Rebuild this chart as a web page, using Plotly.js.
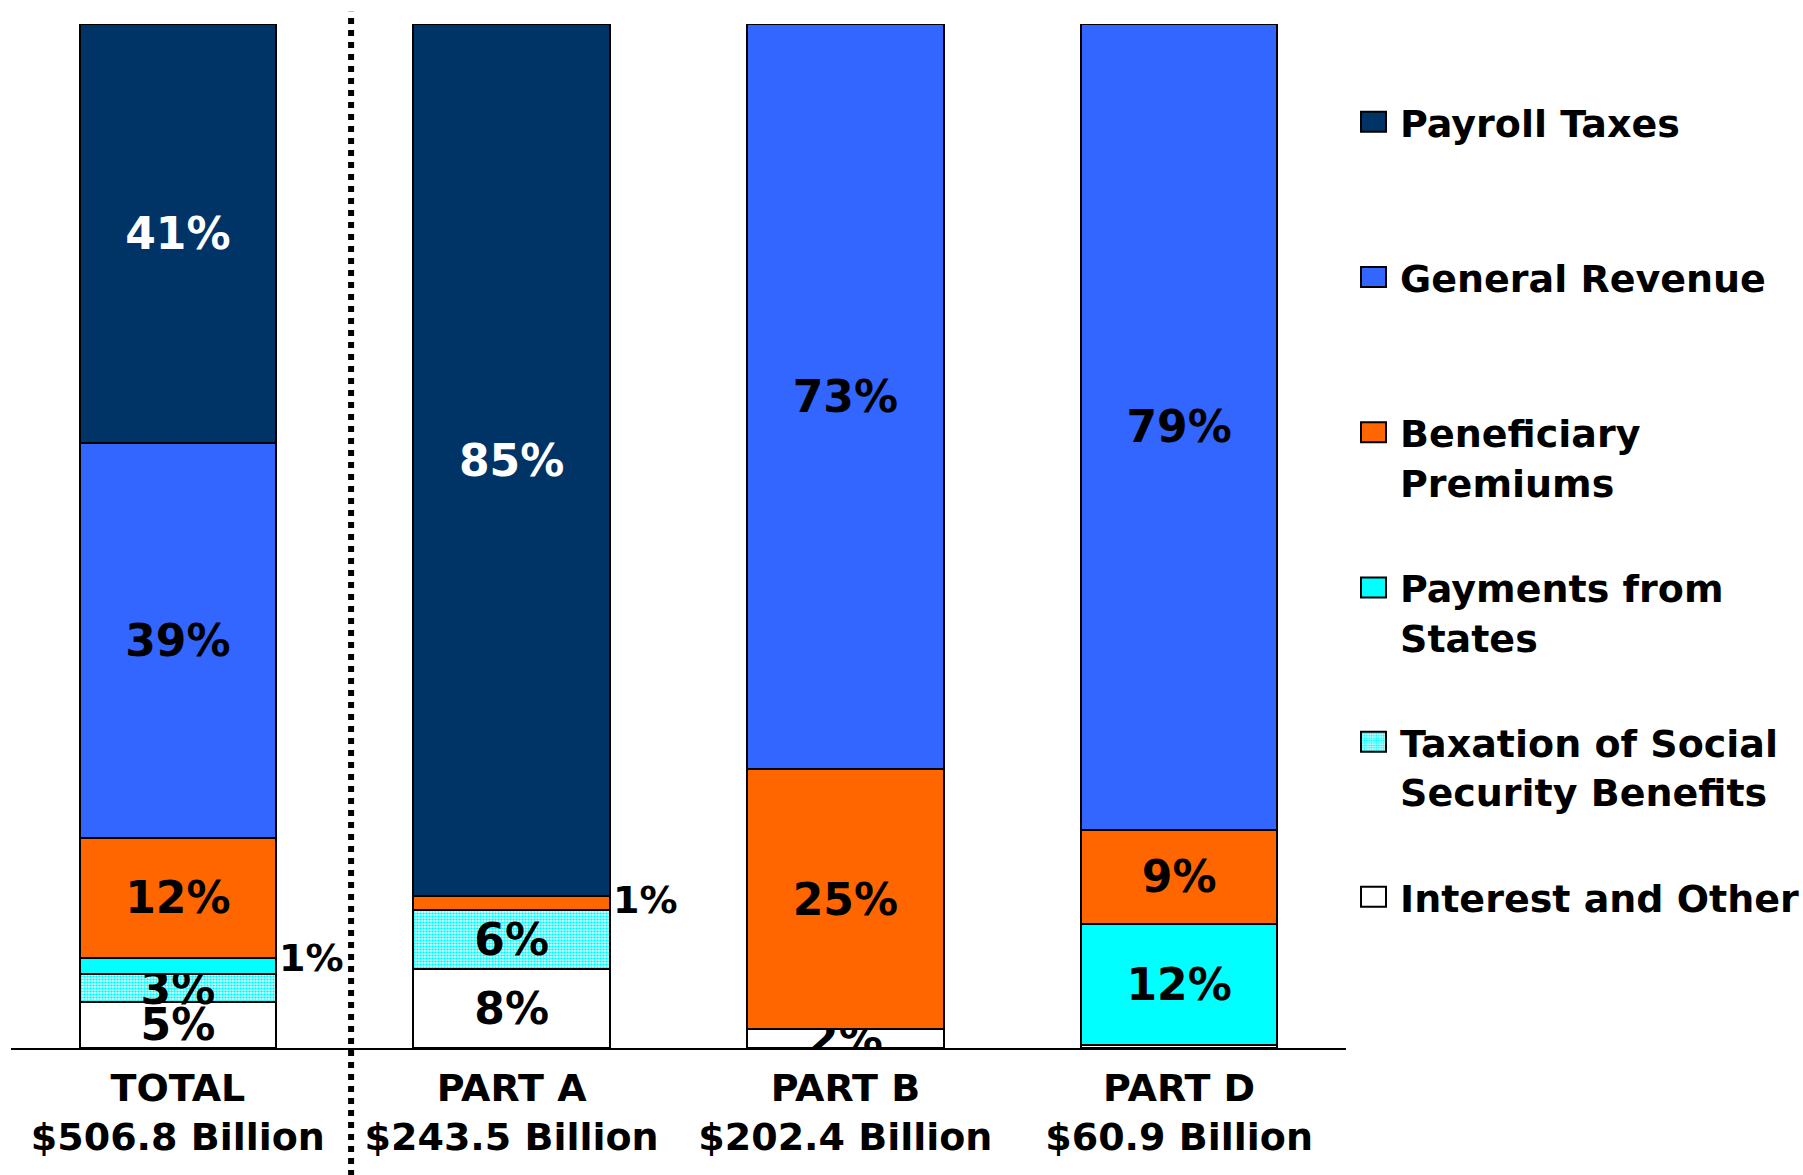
<!DOCTYPE html>
<html>
<head>
<meta charset="utf-8">
<script src="https://cdn.plot.ly/plotly-3.0.1.min.js"></script>
<style>
  html, body { margin: 0; padding: 0; background: #ffffff; }
  #chart { width: 1803px; height: 1175px; }
</style>
</head>
<body>
<div id="chart"></div>
<script>
// ---- data (percent of each program's income) ----
const categories = ['TOTAL', 'PART A', 'PART B', 'PART D'];
const totals = ['$506.8 Billion', '$243.5 Billion', '$202.4 Billion', '$60.9 Billion'];

const seriesNames = ['Payroll Taxes', 'General Revenue', 'Beneficiary<br>Premiums',
                     'Payments from<br>States', 'Taxation of Social<br>Security Benefits', 'Interest and Other'];

const payroll        = [40.9, 85.2, 0, 0];
const generalRevenue = [38.6, 0, 72.8, 78.7];
const premiums       = [11.7, 1.3, 25.3, 9.2];
const states         = [1.6, 0, 0, 11.8];
const taxation       = [2.7, 5.8, 0, 0];
const interest       = [4.5, 7.7, 1.9, 0.3];

const payrollLabels  = ['41%', '85%', '', ''];
const revenueLabels  = ['39%', '', '73%', '79%'];
const premiumLabels  = ['12%', '', '25%', '9%'];
const statesLabels   = ['', '', '', '12%'];
const taxationLabels = ['3%', '6%', '', ''];
const interestLabels = ['5%', '8%', '2%', ''];

// small shares labelled beside the bar
const premiumOutside = ['', '1%', '', ''];
const statesOutside  = ['1%', '', '', ''];

// ---- styles ----
const colors = {
  payroll: '#003366', revenue: '#3366FF', premiums: '#FF6600',
  states: '#00FFFF', taxation: '#00FFFF', interest: '#FFFFFF'
};
const FONT = 'DejaVu Sans';
const bargap = 0.411;

function barTrace(name, values, labels, color, legendId, textColor, extraMarker) {
  const marker = Object.assign({ color: color, line: { color: '#000000', width: 2 } }, extraMarker || {});
  return {
    type: 'bar', name: name, x: categories, y: values,
    text: labels, textposition: 'inside', insidetextanchor: 'middle', textangle: 0,
    textfont: { family: FONT, size: 44, weight: 'bold', color: textColor },
    marker: marker, legend: legendId, hoverinfo: 'name+y'
  };
}

const traces = [
  barTrace(seriesNames[5], interest, interestLabels, colors.interest, 'legend6', '#000000'),
  barTrace(seriesNames[4], taxation, taxationLabels, colors.taxation, 'legend5', '#000000',
           { pattern: { shape: '.', fgcolor: '#00FFFF', bgcolor: '#FFFFFF', size: 3, solidity: 0.55 } }),
  barTrace(seriesNames[3], states, statesLabels, colors.states, 'legend4', '#000000'),
  barTrace(seriesNames[2], premiums, premiumLabels, colors.premiums, 'legend3', '#000000'),
  barTrace(seriesNames[1], generalRevenue, revenueLabels, colors.revenue, 'legend2', '#000000'),
  barTrace(seriesNames[0], payroll, payrollLabels, colors.payroll, 'legend', '#FFFFFF')
];

// annotations for the small shares placed beside the bars
const annotations = [];
const halfBar = (1 - bargap) / 2;
function addOutside(labels, below, values, yshift) {
  labels.forEach(function (t, i) {
    if (!t) return;
    let base = 0;
    below.forEach(function (arr) { base += arr[i]; });
    annotations.push({
      x: i + halfBar, y: base + values[i] / 2, xref: 'x', yref: 'y',
      text: t, showarrow: false, xanchor: 'left', yanchor: 'middle', xshift: 1, yshift: yshift,
      font: { family: FONT, size: 38, weight: 'bold', color: '#000000' }
    });
  });
}
addOutside(statesOutside, [interest, taxation], states, 8);
addOutside(premiumOutside, [interest, taxation, states], premiums, 3);

// legend positions (one legend box per series so spacing can follow the original)
const legendTops = [0.935, 0.7834, 0.6317, 0.4801, 0.3295, 0.1782];
function legendBox(y) {
  return {
    x: 1.0105, xanchor: 'left', y: y, yanchor: 'top',
    bgcolor: 'rgba(0,0,0,0)', borderwidth: 0, valign: 'top',
    font: { family: FONT, size: 38, weight: 'bold', color: '#000000' }
  };
}

const layout = {
  width: 1803, height: 1175,
  margin: { l: 11, r: 457, t: 24, b: 127, pad: 0, autoexpand: false },
  paper_bgcolor: '#FFFFFF', plot_bgcolor: '#FFFFFF',
  barmode: 'stack', bargap: bargap,
  showlegend: true,
  uniformtext: { minsize: 44, mode: 'show' },
  xaxis: {
    type: 'category', range: [-0.5, 3.5],
    tickvals: categories,
    ticktext: categories.map(function (c, i) { return c + '<br>' + totals[i]; }),
    tickfont: { family: FONT, size: 38, weight: 'bold', color: '#000000' },
    ticklabelstandoff: 5,
    showline: true, linecolor: '#000000', linewidth: 2,
    showgrid: false, zeroline: false, ticks: ''
  },
  yaxis: { range: [0, 100], visible: false, showgrid: false, zeroline: false },
  legend: legendBox(legendTops[0]),
  legend2: legendBox(legendTops[1]),
  legend3: legendBox(legendTops[2]),
  legend4: legendBox(legendTops[3]),
  legend5: legendBox(legendTops[4]),
  legend6: legendBox(legendTops[5]),
  annotations: annotations,
  shapes: [{
    type: 'line', xref: 'x', yref: 'paper', x0: 0.519, x1: 0.519, y0: -0.125, y1: 1.012,
    line: { color: '#000000', width: 6, dash: '6px,6px' }
  }]
};

Plotly.newPlot('chart', traces, layout, { displayModeBar: false, staticPlot: true }).then(function () {
  // enlarge the legend swatches to the wider boxes of the original
  document.querySelectorAll('g.legendpoints path').forEach(function (p) {
    p.setAttribute('d', 'M6,10H-19V-10H6Z');
  });
});
</script>
</body>
</html>
